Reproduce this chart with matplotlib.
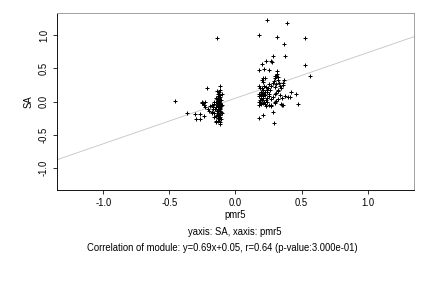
import matplotlib
matplotlib.use("Agg")
import matplotlib.pyplot as plt

plt.rcParams['font.family'] = ['Liberation Sans', 'DejaVu Sans']

# module members: (pmr5, SA)
pmr5 = [
    # left cluster, outliers
    -0.139, -0.457, -0.368, -0.303, -0.300, -0.270, -0.268, -0.237, -0.215, -0.250,
    -0.245, -0.240, -0.235, -0.230, -0.210, -0.180, -0.170, -0.175, -0.160, -0.145,
    -0.149, -0.200, -0.190, -0.230, -0.255,
    # left cluster, column
    -0.120, -0.115, -0.125, -0.130, -0.120, -0.135, -0.115, -0.125, -0.140, -0.120,
    -0.110, -0.130, -0.145, -0.125, -0.115, -0.135, -0.120, -0.140, -0.130, -0.110,
    -0.125, -0.145, -0.120, -0.135, -0.115, -0.130, -0.140, -0.120, -0.110, -0.130,
    -0.125, -0.140, -0.115, -0.130, -0.120, -0.135, -0.110, -0.125, -0.130, -0.115,
    -0.120, -0.150, -0.160, -0.155, -0.160, -0.150, -0.170, -0.175, -0.165, -0.140,
    -0.105, -0.105, -0.105,
    # right cluster, outliers
    0.237, 0.391, 0.179, 0.315, 0.527, 0.366, 0.378, 0.282, 0.267, 0.277,
    0.229, 0.199, 0.527, 0.560, 0.179, 0.212, 0.250, 0.315, 0.315, 0.300,
    0.325, 0.285, 0.292, 0.177, 0.209, 0.469, 0.459, 0.416, 0.411, 0.400,
    0.373, 0.343, 0.353, 0.325, 0.298, 0.323, 0.335, 0.356, 0.232, 0.265,
    0.310,
    # right cluster, dense part
    0.180, 0.185, 0.190, 0.180, 0.195, 0.180, 0.190, 0.185, 0.180, 0.190,
    0.180, 0.200, 0.210, 0.220, 0.205, 0.215, 0.200, 0.210, 0.200, 0.215,
    0.205, 0.210, 0.200, 0.215, 0.205, 0.220, 0.230, 0.235, 0.240, 0.225,
    0.235, 0.230, 0.240, 0.250, 0.245, 0.250, 0.260, 0.255, 0.270, 0.265,
    0.280, 0.290, 0.295, 0.300, 0.305, 0.310, 0.320, 0.330, 0.320, 0.310,
    0.335, 0.345, 0.360, 0.370, 0.350, 0.360, 0.280, 0.295, 0.270, 0.300,
    0.250, 0.220, 0.195,
]
sa = [
    0.960, 0.005, -0.167, -0.192, -0.268, -0.268, -0.182, -0.217, 0.200, 0.000,
    -0.020, -0.050, -0.060, -0.090, -0.120, -0.050, -0.110, -0.180, -0.170, -0.220,
    -0.310, -0.140, -0.070, -0.010, -0.030,
    0.240, 0.180, 0.150, 0.120, 0.100, 0.080, 0.070, 0.050, 0.040, 0.030,
    0.020, 0.010, 0.000, -0.010, -0.020, -0.030, -0.040, -0.050, -0.060, -0.070,
    -0.080, -0.090, -0.100, -0.110, -0.120, -0.130, -0.140, -0.150, -0.160, -0.170,
    -0.190, -0.200, -0.210, -0.220, -0.240, -0.250, -0.260, -0.270, -0.290, -0.310,
    -0.340, -0.300, -0.230, -0.120, -0.040, 0.050, -0.080, -0.160, -0.010, 0.160,
    -0.050, 0.110, -0.180,
    1.232, 1.190, 1.010, 0.975, 0.960, 0.869, 0.687, 0.687, 0.606, 0.596,
    0.606, 0.566, 0.550, 0.384, 0.475, 0.485, 0.475, 0.460, 0.414, 0.384,
    0.374, -0.162, -0.328, -0.253, -0.207, -0.040, 0.106, 0.146, 0.070, 0.070,
    0.090, -0.045, -0.060, 0.045, 0.120, 0.157, 0.232, 0.273, -0.070, -0.070,
    0.005,
    0.240, 0.200, 0.150, 0.120, 0.100, 0.080, 0.060, 0.030, 0.000, -0.020,
    -0.050, 0.330, 0.360, 0.350, 0.290, 0.240, 0.200, 0.170, 0.130, 0.110,
    0.080, 0.050, 0.020, 0.000, -0.020, 0.140, 0.220, 0.180, 0.150, 0.100,
    0.060, 0.020, -0.010, 0.260, 0.200, 0.120, 0.170, 0.080, 0.240, 0.040,
    0.280, 0.310, 0.350, 0.220, 0.260, 0.390, 0.330, 0.280, 0.180, 0.130,
    0.100, 0.200, 0.250, 0.330, 0.050, -0.060, 0.070, 0.000, -0.050, -0.030,
    -0.060, -0.040, -0.040,
]

slope, intercept = 0.69, 0.05
ticks = [-1.0, -0.5, 0.0, 0.5, 1.0]
lim = (-1.35, 1.35)
fs = 9.5

fig = plt.figure(figsize=(6, 4), dpi=72)
ax = fig.add_axes([57 / 432, 98 / 288, 357 / 432, 177 / 288])

ax.plot(lim, [slope * v + intercept for v in lim], color='#c8c8c8', lw=0.9, zorder=1)
ax.scatter(pmr5, sa, marker='+', s=20, c='black', linewidths=1.0, zorder=2)

ax.set_xlim(lim)
ax.set_ylim(-1.34, 1.34)
ax.set_xticks(ticks)
ax.set_yticks(ticks)
ax.set_xticklabels([f"{t:.1f}" for t in ticks])
ax.set_yticklabels([f"{t:.1f}" for t in ticks], rotation=90, va='center')
ax.tick_params(labelsize=fs, length=4, width=0.8, pad=4)

for side in ['top', 'right']:
    ax.spines[side].set_color('#999999')
for side in ['left', 'bottom']:
    ax.spines[side].set_color('black')
for s in ax.spines.values():
    s.set_linewidth(0.9)

ax.set_xlabel("pmr5", fontsize=fs, labelpad=2)
ax.set_ylabel("SA", fontsize=fs, labelpad=5)

fig.text(235 / 432, 1 - 232 / 288, "yaxis: SA, xaxis: pmr5", ha='center', va='center', fontsize=fs)
fig.text(222 / 432, 1 - 248 / 288,
         "Correlation of module: y=0.69x+0.05, r=0.64 (p-value:3.000e-01)",
         ha='center', va='center', fontsize=fs)

fig.savefig("out.png", dpi=72)
